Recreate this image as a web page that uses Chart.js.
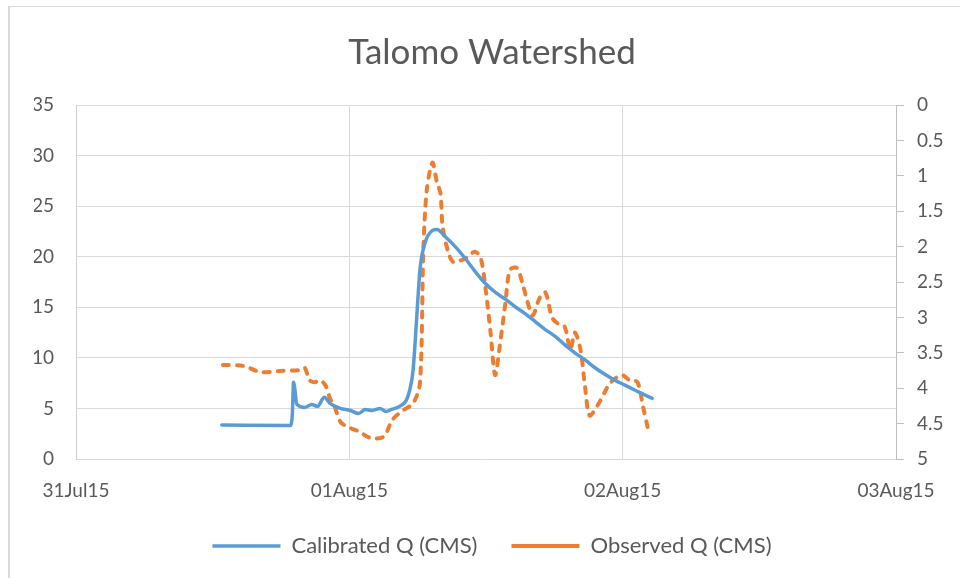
<!DOCTYPE html>
<html>
<head>
<meta charset="utf-8">
<script src="https://cdn.jsdelivr.net/npm/chart.js@4.4.1/dist/chart.umd.min.js"></script>
<style>
  html, body { margin: 0; padding: 0; background: #fff; }
  #wrap { position: relative; width: 960px; height: 578px; overflow: hidden; }
  #frame { position: absolute; left: 8px; top: 6px; width: 960px; height: 600px;
           border-left: 2px solid #d9d9d9; border-top: 1px solid #d9d9d9; pointer-events: none; }
</style>
</head>
<body>
<div id="wrap">
  <canvas id="chart" width="960" height="578"></canvas>
  <div id="frame"></div>
</div>
<script>
// x values are hours since 31Jul15 00:00
const DATE_LABELS = ['31Jul15', '01Aug15', '02Aug15', '03Aug15'];

const calHours = [12.8, 18.8, 19.0, 19.1, 19.4, 20.1, 20.7, 21.2, 21.8, 22.3, 23.2, 24.1, 24.8, 25.4,
  26.0, 26.7, 27.2, 27.7, 28.4, 29.0, 29.3, 29.6, 29.9, 30.2, 30.6, 31.3, 31.7, 32.4, 33.3, 34.2,
  35.0, 35.9, 36.8, 37.7, 38.5, 39.4, 40.3, 41.2, 42.1, 42.9, 43.8, 44.7, 45.6, 46.4, 47.3, 48.2,
  49.1, 50.0, 50.6];
const calQ = [3.35, 3.3, 4.5, 7.6, 5.4, 5.1, 5.4, 5.2, 6.1, 5.5, 5.0, 4.8, 4.5, 4.9,
  4.8, 5.0, 4.7, 4.9, 5.2, 5.8, 6.8, 8.8, 13.7, 18.7, 21.2, 22.6, 22.7, 22.0, 21.0, 19.8,
  18.6, 17.4, 16.5, 15.8, 15.1, 14.4, 13.6, 12.8, 12.1, 11.3, 10.5, 9.8, 9.0, 8.4, 7.8, 7.3,
  6.8, 6.3, 6.0];

const obsHours = [12.9, 14.7, 16.2, 17.9, 19.7, 20.1, 20.5, 21.0, 21.4, 21.9, 22.3, 22.7, 23.2, 23.8,
  24.9, 25.8, 27.0, 27.8, 28.7, 29.6, 30.2, 30.5, 30.8, 31.3, 31.7, 32.0, 32.2, 32.7, 33.1, 33.7,
  34.3, 35.0, 35.5, 35.9, 36.4, 36.8, 37.2, 37.7, 38.1, 38.7, 39.2, 39.6, 40.1, 40.7, 41.2, 41.8,
  42.3, 42.9, 43.4, 43.8, 44.3, 44.7, 45.1, 45.8, 46.9, 47.9, 48.6, 49.3, 49.8, 50.2];
const obsQ = [9.3, 9.2, 8.6, 8.7, 8.8, 9.0, 7.8, 7.6, 7.8, 7.3, 6.0, 5.2, 3.7, 3.2,
  2.7, 2.1, 2.2, 3.9, 4.8, 5.5, 7.5, 20.7, 26.6, 29.3, 27.3, 26.3, 22.9, 20.4, 19.5, 19.6,
  19.9, 20.5, 20.0, 17.4, 12.5, 8.3, 11.1, 15.4, 18.7, 18.9, 17.4, 15.7, 14.2, 15.9, 16.5, 14.0,
  13.4, 13.1, 10.8, 12.5, 10.8, 7.1, 4.3, 5.3, 7.5, 8.3, 7.8, 7.6, 5.1, 3.1];

const TEXT = '#595959';
const GRID = '#d9d9d9';
const FONT = 'Lato';

const toPoints = (xs, ys) => xs.map((x, i) => ({ x: x, y: ys[i] }));

const ctx = document.getElementById('chart').getContext('2d');
const chart = new Chart(ctx, {
  type: 'line',
  data: {
    datasets: [
      { label: 'Calibrated Q (CMS)', data: toPoints(calHours, calQ), yAxisID: 'y',
        borderColor: '#5b9bd5', backgroundColor: '#5b9bd5', borderWidth: 3.5,
        pointRadius: 0, cubicInterpolationMode: 'monotone', borderCapStyle: 'round', borderJoinStyle: 'round' },
      { label: 'Observed Q (CMS)', data: toPoints(obsHours, obsQ), yAxisID: 'y',
        borderColor: '#ed7d31', backgroundColor: '#ed7d31', borderWidth: 4, borderDash: [6, 8],
        pointRadius: 0, tension: 0.3, borderCapStyle: 'round', borderJoinStyle: 'round' }
    ]
  },
  options: {
    responsive: false,
    animation: false,
    layout: { padding: { top: 32, left: 34, right: 10, bottom: 11 } },
    scales: {
      x: {
        type: 'linear', min: 0, max: 72,
        grid: { color: GRID, drawTicks: false },
        border: { color: GRID },
        ticks: { stepSize: 24, padding: 20, color: TEXT, font: { family: FONT, size: 19 },
                 callback: v => DATE_LABELS[v / 24] },
        afterFit: s => { s.height = 42; }
      },
      y: {
        position: 'left', min: 0, max: 35,
        grid: { color: GRID, drawTicks: false },
        border: { color: '#cfcfcf' },
        ticks: { stepSize: 5, padding: 22, color: TEXT, font: { family: FONT, size: 19 } },
        afterFit: s => { s.width = 42; }
      },
      y2: {
        position: 'right', min: 0, max: 5, reverse: true,
        grid: { drawOnChartArea: false, color: '#bfbfbf', tickLength: 8 },
        border: { color: '#bfbfbf' },
        ticks: { stepSize: 0.5, padding: 13, color: TEXT, font: { family: FONT, size: 19 },
                 callback: v => String(Math.round(v * 10) / 10) },
        afterFit: s => { s.width = 54; }
      }
    },
    plugins: {
      title: { display: true, text: 'Talomo Watershed', color: TEXT,
               font: { family: FONT, size: 35, weight: 'normal' }, padding: { top: 0, bottom: 31 } },
      legend: { position: 'bottom',
                labels: { color: TEXT, font: { family: FONT, size: 22 }, usePointStyle: true,
                          pointStyle: 'line', pointStyleWidth: 68, boxHeight: 22, padding: 34 } },
      tooltip: { enabled: false }
    }
  }
});
</script>
</body>
</html>
